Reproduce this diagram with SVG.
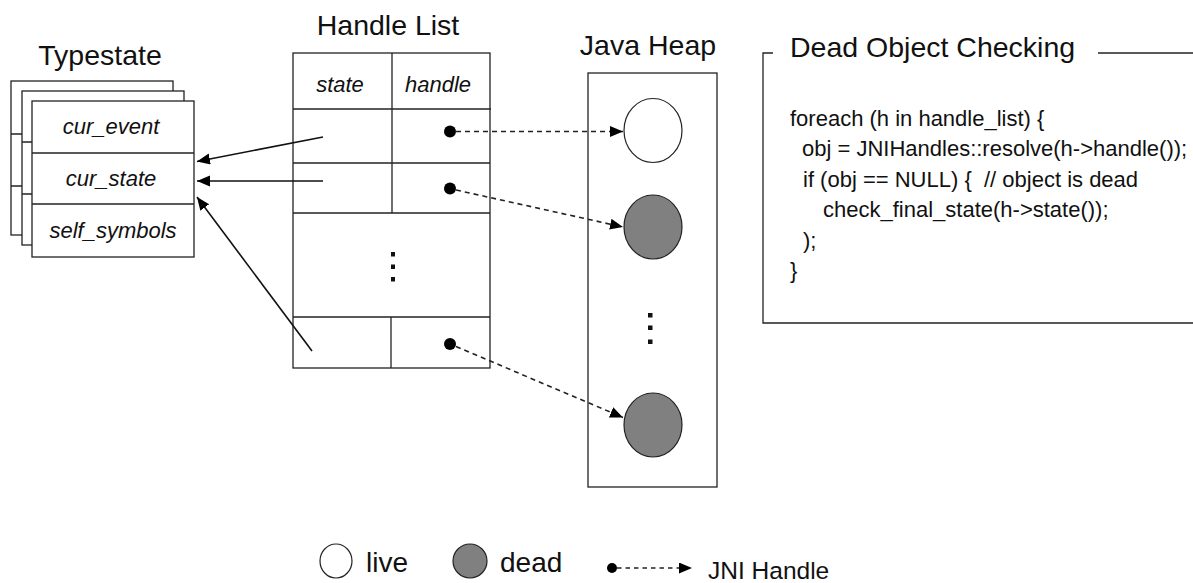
<svg xmlns="http://www.w3.org/2000/svg" width="1193" height="583" viewBox="0 0 1193 583">
  <style>
    .title { font-family: "Liberation Sans", Arial, sans-serif; font-size: 28.5px; fill: #111; }
    .field { font-family: "Liberation Sans", Arial, sans-serif; font-style: italic; font-size: 22px; fill: #111; text-anchor: middle; }
    .code { font-family: "Liberation Sans", Arial, sans-serif; font-size: 22px; fill: #111; }
    .legend { font-family: "Liberation Sans", Arial, sans-serif; fill: #111; }
    .box { fill: #fff; stroke: #222; stroke-width: 1.3; }
    .rule { stroke: #222; stroke-width: 1.3; fill: none; }
    .ref { stroke: #111; stroke-width: 1.6; fill: none; marker-end: url(#solidHead); }
    .jni { stroke: #222; stroke-width: 1.6; stroke-dasharray: 5 4; fill: none; marker-end: url(#solidHead); }
    .pin { fill: #000; }
    .live { fill: #fff; stroke: #222; stroke-width: 1.2; }
    .dead { fill: #808080; stroke: #222; stroke-width: 1.2; }
    .ellipsis { fill: #111; }
  </style>
  <defs>
    <marker id="solidHead" markerUnits="userSpaceOnUse" markerWidth="14" markerHeight="12" refX="13" refY="5.5" orient="auto">
      <path d="M0,0 L13,5.5 L0,11 z" fill="#000"/>
    </marker>
  </defs>

  <rect width="1193" height="583" fill="#fff"/>

  <!-- Typestate: stacked records -->
  <g id="typestate">
    <text class="title" x="100" y="65" text-anchor="middle">Typestate</text>
    <rect class="box" x="11" y="81" width="162" height="154"/>
    <line class="rule" x1="11" y1="134" x2="173" y2="134"/>
    <line class="rule" x1="11" y1="186" x2="173" y2="186"/>
    <rect class="box" x="22" y="91" width="162" height="154"/>
    <line class="rule" x1="22" y1="142" x2="184" y2="142"/>
    <line class="rule" x1="22" y1="194" x2="184" y2="194"/>
    <rect class="box" x="32" y="101" width="162" height="156"/>
    <line class="rule" x1="32" y1="153" x2="194" y2="153"/>
    <line class="rule" x1="32" y1="204" x2="194" y2="204"/>
    <text class="field" x="111" y="134">cur_event</text>
    <text class="field" x="111" y="186">cur_state</text>
    <text class="field" x="113" y="238">self_symbols</text>
  </g>

  <!-- Handle list table -->
  <g id="handle-list">
    <text class="title" x="388" y="35" text-anchor="middle">Handle List</text>
    <rect class="box" x="293" y="53" width="197" height="315"/>
    <line class="rule" x1="293" y1="109" x2="491" y2="109"/>
    <line class="rule" x1="293" y1="163" x2="490" y2="163"/>
    <line class="rule" x1="293" y1="213" x2="490" y2="213"/>
    <line class="rule" x1="293" y1="317" x2="490" y2="317"/>
    <line class="rule" x1="392" y1="53" x2="392" y2="213"/>
    <line class="rule" x1="391" y1="317" x2="391" y2="368"/>
    <text class="field" x="340" y="92">state</text>
    <text class="field" x="438" y="92">handle</text>
    <rect class="ellipsis" x="391" y="252" width="4" height="4.5"/>
    <rect class="ellipsis" x="391" y="264.5" width="4" height="4.5"/>
    <rect class="ellipsis" x="391" y="277" width="4" height="4.5"/>
    <circle class="pin" cx="450" cy="131.5" r="6"/>
    <circle class="pin" cx="450" cy="188.5" r="6"/>
    <circle class="pin" cx="450" cy="344" r="6"/>
  </g>

  <!-- Java heap with objects -->
  <g id="java-heap">
    <text class="title" x="648" y="55" text-anchor="middle">Java Heap</text>
    <rect class="box" x="588" y="73" width="129" height="414"/>
    <ellipse class="live" cx="653" cy="130.5" rx="29" ry="32"/>
    <ellipse class="dead" cx="653" cy="227" rx="29" ry="32"/>
    <rect class="ellipsis" x="648" y="313" width="4.5" height="4.5"/>
    <rect class="ellipsis" x="648" y="325.5" width="4.5" height="4.5"/>
    <rect class="ellipsis" x="648" y="339.5" width="4.5" height="4.5"/>
    <ellipse class="dead" cx="653" cy="425" rx="29" ry="32"/>
  </g>

  <!-- Dead object checking pseudo-code -->
  <g id="dead-object-checking">
    <polyline class="rule" points="773,53 763,53 763,323 1193,323"/>
    <line class="rule" x1="1098" y1="53" x2="1193" y2="53"/>
    <text class="title" x="790" y="57">Dead Object Checking</text>
    <text class="code" x="790" y="126">foreach (h in handle_list) {</text>
    <text class="code" x="802" y="156">obj = JNIHandles::resolve(h-&gt;handle());</text>
    <text class="code" x="803" y="187" xml:space="preserve">if (obj == NULL) {  // object is dead</text>
    <text class="code" x="823" y="217">check_final_state(h-&gt;state());</text>
    <text class="code" x="803" y="248">);</text>
    <text class="code" x="790" y="278">}</text>
  </g>

  <!-- Connectors -->
  <g id="connectors">
    <line class="ref" x1="323" y1="137" x2="197" y2="161.5"/>
    <line class="ref" x1="323" y1="181" x2="197" y2="181"/>
    <line class="ref" x1="312" y1="351" x2="197" y2="197"/>
    <line class="jni" x1="456" y1="131.5" x2="623" y2="131.5"/>
    <line class="jni" x1="456" y1="190" x2="623" y2="227"/>
    <line class="jni" x1="456" y1="346.5" x2="623" y2="417.5"/>
  </g>

  <!-- Legend -->
  <g id="legend">
    <ellipse class="live" cx="336" cy="561" rx="16" ry="17"/>
    <text class="legend" x="366" y="572" font-size="28">live</text>
    <ellipse class="dead" cx="470" cy="561" rx="17" ry="17"/>
    <text class="legend" x="500" y="572" font-size="28">dead</text>
    <circle class="pin" cx="612" cy="568" r="5"/>
    <line class="jni" x1="617" y1="568" x2="692" y2="568" style="stroke-width:1.4;stroke-dasharray:4.5 4"/>
    <text class="legend" x="708" y="579" font-size="24.5">JNI Handle</text>
  </g>
</svg>
